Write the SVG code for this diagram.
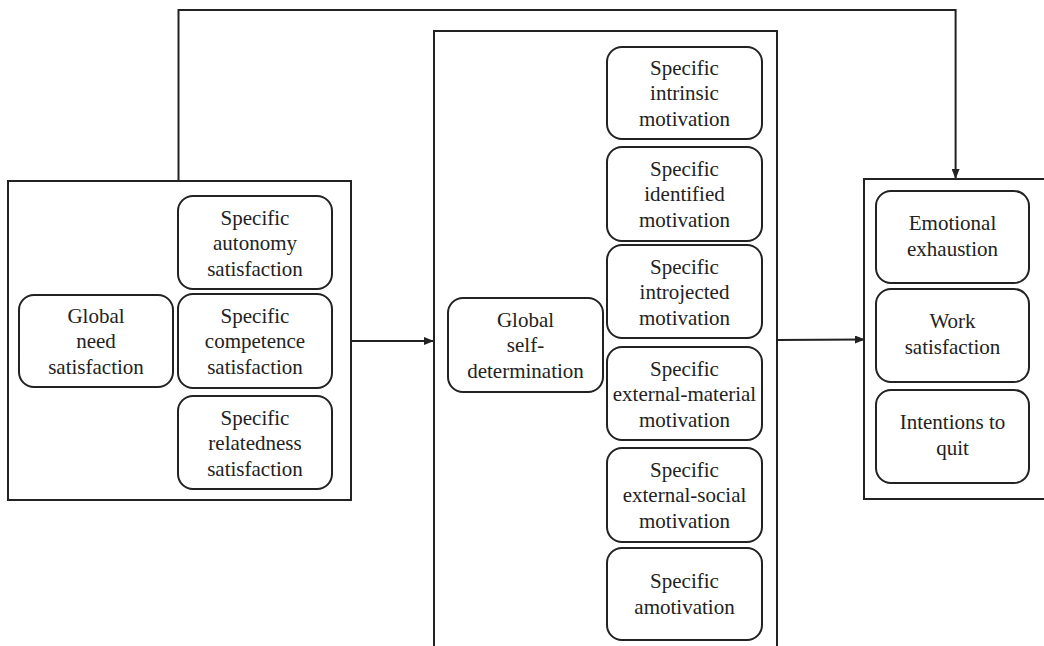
<svg xmlns="http://www.w3.org/2000/svg" width="1044" height="646" viewBox="0 0 1044 646">
<style>
.bg{fill:#ffffff}
.box{fill:none;stroke:#222;stroke-width:2}
.node{fill:#fff;stroke:#222;stroke-width:2}
.t{font-family:'Liberation Serif','Times New Roman',serif;font-size:21px;fill:#222;text-anchor:middle}
.c{fill:none;stroke:#222;stroke-width:2}
</style>
<defs>
<marker id="arr" markerUnits="userSpaceOnUse" markerWidth="10" markerHeight="8" refX="9" refY="4" orient="auto">
<path d="M0,0 L10,4 L0,8 Z" fill="#222"/>
</marker>
</defs>
<rect class="bg" x="0" y="0" width="1044" height="646"/>

<g id="connectors">
<path class="c" d="M178.5,181 V10 H955.6 V178" marker-end="url(#arr)"/>
<line class="c" x1="351" y1="341" x2="433" y2="341" marker-end="url(#arr)"/>
<line class="c" x1="777" y1="340" x2="864" y2="339.5" marker-end="url(#arr)"/>
</g>

<g id="need-satisfaction-group">
<rect class="box" x="8" y="181" width="343" height="319"/>
</g>
<g id="global-need">
<rect class="node" x="19" y="295" width="154" height="92" rx="15"/>
<text class="t" x="96" y="348"><tspan x="96" dy="-25.5">Global</tspan><tspan x="96" dy="25.5">need</tspan><tspan x="96" dy="25.5">satisfaction</tspan></text>
</g>
<g id="specific-autonomy">
<rect class="node" x="178" y="196" width="154" height="93" rx="15"/>
<text class="t" x="255" y="250"><tspan x="255" dy="-25.5">Specific</tspan><tspan x="255" dy="25.5">autonomy</tspan><tspan x="255" dy="25.5">satisfaction</tspan></text>
</g>
<g id="specific-competence">
<rect class="node" x="178" y="294" width="154" height="94" rx="15"/>
<text class="t" x="255" y="348"><tspan x="255" dy="-25.5">Specific</tspan><tspan x="255" dy="25.5">competence</tspan><tspan x="255" dy="25.5">satisfaction</tspan></text>
</g>
<g id="specific-relatedness">
<rect class="node" x="178" y="396" width="154" height="93" rx="15"/>
<text class="t" x="255" y="450"><tspan x="255" dy="-25.5">Specific</tspan><tspan x="255" dy="25.5">relatedness</tspan><tspan x="255" dy="25.5">satisfaction</tspan></text>
</g>

<g id="motivation-group">
<rect class="box" x="434" y="31" width="343" height="630"/>
</g>
<g id="global-self-determination">
<rect class="node" x="448" y="298" width="155" height="94" rx="15"/>
<text class="t" x="525.5" y="352"><tspan x="525.5" dy="-25.5">Global</tspan><tspan x="525.5" dy="25.5">self-</tspan><tspan x="525.5" dy="25.5">determination</tspan></text>
</g>
<g id="specific-intrinsic">
<rect class="node" x="607" y="47" width="155" height="92" rx="15"/>
<text class="t" x="684.5" y="100"><tspan x="684.5" dy="-25.5">Specific</tspan><tspan x="684.5" dy="25.5">intrinsic</tspan><tspan x="684.5" dy="25.5">motivation</tspan></text>
</g>
<g id="specific-identified">
<rect class="node" x="607" y="147" width="155" height="94" rx="15"/>
<text class="t" x="684.5" y="201"><tspan x="684.5" dy="-25.5">Specific</tspan><tspan x="684.5" dy="25.5">identified</tspan><tspan x="684.5" dy="25.5">motivation</tspan></text>
</g>
<g id="specific-introjected">
<rect class="node" x="607" y="245" width="155" height="93" rx="15"/>
<text class="t" x="684.5" y="299"><tspan x="684.5" dy="-25.5">Specific</tspan><tspan x="684.5" dy="25.5">introjected</tspan><tspan x="684.5" dy="25.5">motivation</tspan></text>
</g>
<g id="specific-external-material">
<rect class="node" x="607" y="347" width="155" height="93" rx="15"/>
<text class="t" x="684.5" y="401"><tspan x="684.5" dy="-25.5">Specific</tspan><tspan x="684.5" dy="25.5">external-material</tspan><tspan x="684.5" dy="25.5">motivation</tspan></text>
</g>
<g id="specific-external-social">
<rect class="node" x="607" y="448" width="155" height="94" rx="15"/>
<text class="t" x="684.5" y="502"><tspan x="684.5" dy="-25.5">Specific</tspan><tspan x="684.5" dy="25.5">external-social</tspan><tspan x="684.5" dy="25.5">motivation</tspan></text>
</g>
<g id="specific-amotivation">
<rect class="node" x="607" y="548" width="155" height="92" rx="15"/>
<text class="t" x="684.5" y="588"><tspan x="684.5" dy="0">Specific</tspan><tspan x="684.5" dy="25.5">amotivation</tspan></text>
</g>

<g id="outcomes-group">
<rect class="box" x="864" y="179" width="200" height="320"/>
</g>
<g id="emotional-exhaustion">
<rect class="node" x="876" y="191" width="153" height="92" rx="15"/>
<text class="t" x="952.5" y="230"><tspan x="952.5" dy="0">Emotional</tspan><tspan x="952.5" dy="25.5">exhaustion</tspan></text>
</g>
<g id="work-satisfaction">
<rect class="node" x="876" y="289" width="153" height="93" rx="15"/>
<text class="t" x="952.5" y="328"><tspan x="952.5" dy="0">Work</tspan><tspan x="952.5" dy="25.5">satisfaction</tspan></text>
</g>
<g id="intentions-to-quit">
<rect class="node" x="876" y="390" width="153" height="93" rx="15"/>
<text class="t" x="952.5" y="429"><tspan x="952.5" dy="0">Intentions to</tspan><tspan x="952.5" dy="25.5">quit</tspan></text>
</g>
</svg>
